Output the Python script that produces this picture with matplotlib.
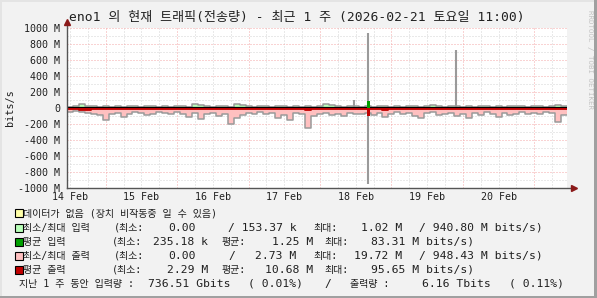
import numpy as np
import matplotlib
matplotlib.use("Agg")
import matplotlib.pyplot as plt
from matplotlib.patches import Rectangle

W, H = 597, 298
DPI = 100

# ---------------- data (Mbit/s), 2-hour bins starting 14 Feb 11:00 ----------------
BIN_HOURS = 2
out_max = [45, 40, 55, 60, 70, 90, 150, 80, 60, 110, 70, 50, 60, 90, 70, 55,
           60, 80, 50, 70, 110, 60, 140, 80, 60, 100, 70, 200, 120, 90, 60, 80,
           50, 70, 60, 130, 90, 150, 60, 80, 250, 100, 70, 60, 90, 70, 100, 60,
           80, 70, 60, 90, 60, 110, 70, 50, 80, 60, 100, 130, 60, 50, 90, 70,
           60, 100, 80, 120, 60, 90, 50, 70, 110, 60, 90, 70, 50, 80, 60, 70,
           50, 60, 170, 90]
in_max = [15, 20, 55, 20, 20, 15, 25, 15, 20, 10, 20, 25, 15, 20, 25, 15,
          20, 15, 25, 20, 15, 55, 40, 20, 15, 20, 25, 15, 45, 40, 20, 15,
          25, 20, 15, 20, 25, 15, 20, 15, 20, 15, 25, 45, 40, 20, 15, 20,
          30, 15, 20, 15, 25, 20, 15, 20, 15, 25, 20, 15, 20, 40, 20, 15,
          20, 25, 15, 20, 15, 25, 20, 15, 20, 15, 25, 20, 30, 15, 20, 25,
          15, 20, 35, 20]
avg_out = [12, 12, 30, 30, 14, 12, 15, 12, 14, 12, 13, 12, 14, 12, 13, 12,
           14, 12, 13, 12, 14, 12, 13, 12, 14, 12, 13, 12, 14, 12, 13, 12,
           14, 12, 13, 12, 14, 12, 13, 12, 22, 12, 13, 12, 14, 12, 13, 12,
           14, 12, 13, 12, 14, 30, 12, 13, 12, 14, 12, 13, 12, 14, 12, 13,
           12, 14, 12, 13, 12, 14, 12, 13, 12, 14, 12, 13, 12, 14, 12, 13,
           12, 14, 12, 13]
avg_in = [1.2] * 84

spike_hour = [96.3, 101.3, 130.6]
spike_in = [100.0, 940.8, 725.0]
spike_out = [0.0, 948.4, 0.0]
avg_spike_hour = [100.8]
avg_spike_in = [83.3]
avg_spike_out = [95.7]

day_labels = ["14 Feb", "15 Feb", "16 Feb", "17 Feb", "18 Feb", "19 Feb", "20 Feb"]
y_ticks = [1000, 800, 600, 400, 200, 0, -200, -400, -600, -800, -1000]

# ---------------- styling ----------------
BG = "#F2F2F2"
C_NODATA = "#FFFFA8"
C_INMM = "#B8FFB8"
C_INAVG = "#00A000"
C_OUTMM = "#FFC0C0"
C_OUTAVG = "#C00000"
C_OUTLINE = "#9A9A9A"
C_MINOR = "#D4D4D4"
C_MAJOR = "#F4A8A8"
C_AXIS = "#555555"
C_ARROW = "#8B1A1A"

MONO = ["DejaVu Sans Mono", "Noto Sans CJK KR"]
plt.rcParams["font.family"] = MONO

fig = plt.figure(figsize=(W / DPI, H / DPI), dpi=DPI, facecolor=BG)

def px(x, y):
    return x / W, 1 - y / H

# plot area: x 67..567, y 28..188
L, R, T, B = 67, 567, 28, 188
ax = fig.add_axes([L / W, 1 - B / H, (R - L) / W, (B - T) / H])
ax.set_facecolor("white")
ax.set_xlim(0, 168)
ax.set_ylim(-1000, 1000)
for s in ax.spines.values():
    s.set_visible(False)

# grid
for h in range(1, 169, 6):
    midnight = (h - 13) % 24 == 0
    ax.axvline(h, color=C_MAJOR if midnight else C_MINOR, lw=0.72,
               ls=(0, (1, 2)), zorder=0.5)
for v in range(-900, 1001, 100):
    ax.axhline(v, color=C_MAJOR if v % 200 == 0 else C_MINOR, lw=0.72,
               ls=(0, (1, 2)), zorder=0.5)

edges = np.arange(0, 168 + BIN_HOURS, BIN_HOURS)
def ext(a):
    a = list(a)
    return np.array(a + [a[-1]])

om = -ext(out_max)
im = ext(in_max)
ao = -ext(avg_out)
ai = ext(avg_in)

ax.fill_between(edges, 0, om, step="post", color=C_OUTMM, lw=0, zorder=1)
ax.fill_between(edges, 0, im, step="post", color=C_INMM, lw=0, zorder=1)
ax.step(edges, om, where="post", color=C_OUTLINE, lw=1.1, zorder=2)
ax.step(edges, im, where="post", color=C_OUTLINE, lw=1.1, zorder=2)

# narrow spikes (max values)
for hh, vi, vo in zip(spike_hour, spike_in, spike_out):
    ax.vlines(hh, -vo, vi, color=C_OUTLINE, lw=1.5, zorder=2)

ax.axhline(0, color="black", lw=1.6, zorder=3)
ax.fill_between(edges, 0, ao, step="post", color=C_OUTAVG, lw=0, zorder=3.5)
ax.step(edges, ao, where="post", color=C_OUTAVG, lw=1.3, zorder=3.5)
ax.fill_between(edges, 0, ai, step="post", color=C_INAVG, lw=0, zorder=3.5)
for hh, vi, vo in zip(avg_spike_hour, avg_spike_in, avg_spike_out):
    ax.bar(hh, vi, width=1.0, bottom=0, color=C_INAVG, zorder=3.6, align="edge")
    ax.bar(hh, -vo, width=1.0, bottom=0, color=C_OUTAVG, zorder=3.6, align="edge")

# axes with arrows
ax.plot([0, 0], [-1000, 1075], color=C_AXIS, lw=1.0, clip_on=False, zorder=5)
ax.plot([0, 170.5], [-1000, -1000], color=C_AXIS, lw=1.0, clip_on=False, zorder=5)
ax.plot([0], [1075], marker="^", ms=4, color=C_ARROW, clip_on=False, zorder=6)
ax.plot([170.5], [-1000], marker=">", ms=4, color=C_ARROW, clip_on=False, zorder=6)

# ticks
ax.set_yticks(y_ticks)
ax.set_yticklabels([f"{v} M" if v != 0 else "0" for v in y_ticks])
ax.set_xticks([1 + 24 * i for i in range(len(day_labels))])
ax.set_xticklabels(day_labels)
ax.tick_params(axis="y", length=0, pad=5, labelsize=7.2, colors="#202020")
ax.tick_params(axis="x", length=0, pad=3, labelsize=7.2, colors="#202020")

# y label
fig.text(*px(10, 108), "bits/s", rotation=90, ha="center", va="center",
         fontsize=7.3, color="#202020")

# title
fig.text(*px(297, 18), "eno1 의 현재 트래픽(전송량) - 최근 1 주 (2026-02-21 토요일 11:00)",
         ha="center", va="center", fontsize=9.4, color="#202020")

# watermark
fig.text(*px(590, 59), "RRDTOOL / TOBI OETIKER", rotation=270, ha="center",
         va="center", fontsize=5.4, color="#C4C4C4")

# legend
LFS = 8.2
KFS = 7.2
TC = "#202020"
rows_y = [213, 228, 242, 256, 270, 284]
boxes = [C_NODATA, C_INMM, C_INAVG, C_OUTMM, C_OUTAVG]
for yy, c in zip(rows_y, boxes):
    fig.patches.append(Rectangle(px(15, yy + 4), 8 / W, 8 / H, transform=fig.transFigure,
                                 facecolor=c, edgecolor="black", lw=0.8))

def t(x, y, s, ha="left", fs=LFS):
    fig.text(*px(x, y), s, ha=ha, va="center", fontsize=fs, color=TC)

t(23, rows_y[0], "데이터가 없음 (장치 비작동중 일 수 있음)", fs=KFS)

t(23, rows_y[1], "최소/최대 입력", fs=KFS)
t(114, rows_y[1], "(최소:", fs=KFS)
t(196, rows_y[1], "0.00", "right")
t(228, rows_y[1], "/ 153.37 k")
t(313, rows_y[1], "최대:", fs=KFS)
t(402, rows_y[1], "1.02 M", "right")
t(419, rows_y[1], "/ 940.80 M bits/s)")

t(23, rows_y[2], "평균 입력", fs=KFS)
t(112, rows_y[2], "(최소:", fs=KFS)
t(208, rows_y[2], "235.18 k", "right")
t(222, rows_y[2], "평균:", fs=KFS)
t(313, rows_y[2], "1.25 M", "right")
t(324, rows_y[2], "최대:", fs=KFS)
t(371, rows_y[2], "83.31 M bits/s)")

t(23, rows_y[3], "최소/최대 출력", fs=KFS)
t(114, rows_y[3], "(최소:", fs=KFS)
t(196, rows_y[3], "0.00", "right")
t(228, rows_y[3], "/")
t(296, rows_y[3], "2.73 M", "right")
t(313, rows_y[3], "최대:", fs=KFS)
t(402, rows_y[3], "19.72 M", "right")
t(419, rows_y[3], "/ 948.43 M bits/s)")

t(23, rows_y[4], "평균 출력", fs=KFS)
t(112, rows_y[4], "(최소:", fs=KFS)
t(208, rows_y[4], "2.29 M", "right")
t(222, rows_y[4], "평균:", fs=KFS)
t(313, rows_y[4], "10.68 M", "right")
t(324, rows_y[4], "최대:", fs=KFS)
t(371, rows_y[4], "95.65 M bits/s)")

t(19, rows_y[5], "지난 1 주 동안 입력량 :", fs=KFS)
t(230, rows_y[5], "736.51 Gbits", "right")
t(248, rows_y[5], "( 0.01%)")
t(324, rows_y[5], "/")
t(350, rows_y[5], "출력량 :", fs=KFS)
t(491, rows_y[5], "6.16 Tbits", "right")
t(509, rows_y[5], "( 0.11%)")

# frame border (3D look)
fig.patches.append(Rectangle((0, 0), 1, 2 / H, transform=fig.transFigure,
                             facecolor="#A0A0A0", lw=0))
fig.patches.append(Rectangle((1 - 3 / W, 0), 3 / W, 1, transform=fig.transFigure,
                             facecolor="#A0A0A0", lw=0))
fig.patches.append(Rectangle((0, 1 - 2 / H), 1 - 3 / W, 2 / H, transform=fig.transFigure,
                             facecolor="#E4E4E4", lw=0))
fig.patches.append(Rectangle((0, 2 / H), 2 / W, 1 - 4 / H, transform=fig.transFigure,
                             facecolor="#E4E4E4", lw=0))

fig.savefig("out.png", dpi=DPI, facecolor=BG)
